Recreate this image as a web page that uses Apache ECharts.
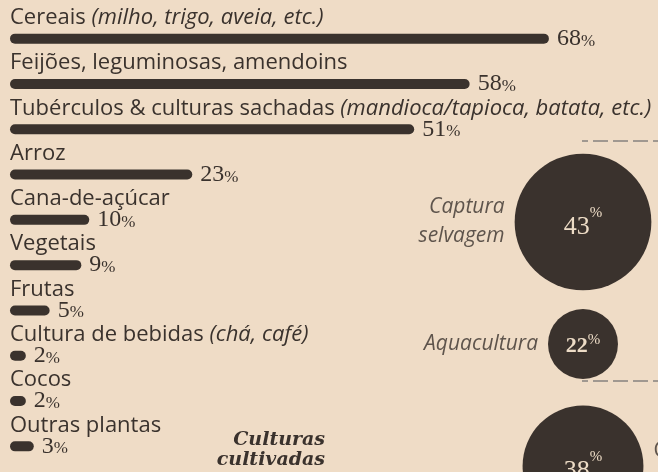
<!DOCTYPE html>
<html>
<head>
<meta charset="utf-8">
<script src="https://cdn.jsdelivr.net/npm/echarts@6/dist/echarts.min.js"></script>
<style>
html,body{margin:0;padding:0;background:#efdcc6;}
#chart{width:658px;height:472px;}
</style>
</head>
<body>
<div id="chart"></div>
<script>
// culturas (barras)
var catNames = ['Cereais', 'Feijões, leguminosas, amendoins', 'Tubérculos & culturas sachadas', 'Arroz', 'Cana-de-açúcar', 'Vegetais', 'Frutas', 'Cultura de bebidas', 'Cocos', 'Outras plantas'];
var catNotes = ['(milho, trigo, aveia, etc.)', '', '(mandioca/tapioca, batata, etc.)', '', '', '', '', '(chá, café)', '', ''];
var cropValues = [68, 58, 51, 23, 10, 9, 5, 2, 2, 3];

// peixe (círculos)
var bubbleNames = ['Captura\nselvagem', 'Aquacultura', 'Criação de\nanimais'];
var bubbleValues = [43, 22, 38];
var bubbleSide = ['left', 'left', 'right'];

var ink = '#3a322d';
var paper = '#efdcc6';
var myChart = echarts.init(document.getElementById('chart'));

var bubbleData = [];
var bubbleNameData = [];
for (var i = 0; i < bubbleValues.length; i++) {
	var small = (i == 1);
	bubbleData.push({
		value: [0, i, bubbleValues[i]],
		label: {rich: {
			n: {fontWeight: small ? 'bold' : 'normal', fontSize: small ? 22 : 26, padding: [small ? 4 : 10, 0, 0, 0]}
		}}
	});
	bubbleNameData.push({
		value: [0, i, bubbleValues[i]],
		label: {
			position: bubbleSide[i],
			align: bubbleSide[i] == 'left' ? 'right' : 'left',
			fontStyle: bubbleSide[i] == 'left' ? 'italic' : 'normal'
		}
	});
}

var option = {
	backgroundColor: paper,
	animation: false,
	textStyle: {fontFamily: 'Open Sans'},
	grid: [
		{left: 10, right: 14, top: 16, height: 453},
		{left: 522, width: 122, top: 222, height: 244}
	],
	xAxis: [
		{gridIndex: 0, type: 'value', min: 0, max: 80, show: false},
		{gridIndex: 1, type: 'category', data: [''], show: false}
	],
	yAxis: [
		{
			gridIndex: 0, type: 'category', inverse: true, data: catNames,
			axisLine: {show: false}, axisTick: {show: false}, splitLine: {show: false},
			axisLabel: {
				inside: true, margin: 0, interval: 0,
				padding: [0, 0, 42, 0],
				formatter: function(v, i){
					var s = '{a|' + v + '}';
					if (catNotes[i]) s += '{a| }{b|' + catNotes[i] + '}';
					return s;
				},
				rich: {
					a: {fontFamily: 'Open Sans', fontSize: 22, color: ink},
					b: {fontFamily: 'Open Sans', fontStyle: 'italic', fontSize: 22, color: ink}
				}
			}
		},
		{gridIndex: 1, type: 'category', inverse: true, boundaryGap: false, data: bubbleNames, show: false}
	],
	series: [
		{
			type: 'bar', xAxisIndex: 0, yAxisIndex: 0,
			data: cropValues,
			barWidth: 10,
			itemStyle: {color: ink, borderRadius: 5},
			label: {
				show: true, position: 'right', distance: 8,
				formatter: '{n|{c}}{p|%}',
				rich: {
					n: {fontFamily: 'Liberation Serif', fontSize: 24, color: ink, verticalAlign: 'bottom'},
					p: {fontFamily: 'Liberation Serif', fontSize: 17, color: ink, verticalAlign: 'bottom', padding: [0, 0, 1, 0]}
				}
			}
		},
		{
			type: 'scatter', xAxisIndex: 1, yAxisIndex: 1, clip: false,
			data: bubbleData,
			symbolSize: function(d){ return d[2] * 3.18; },
			itemStyle: {color: ink, opacity: 1},
			label: {
				show: true, position: 'inside',
				formatter: function(p){ return '{n|' + p.value[2] + '}{p|%}'; },
				rich: {
					n: {fontFamily: 'Liberation Serif', fontSize: 26, color: '#eddcc6', padding: [10, 0, 0, 0]},
					p: {fontFamily: 'Liberation Serif', fontSize: 15, color: '#eddcc6', verticalAlign: 'top', padding: [2, 0, 0, 0]}
				}
			}
		},
		{
			type: 'scatter', xAxisIndex: 1, yAxisIndex: 1, clip: false, silent: true,
			data: bubbleNameData,
			symbolSize: function(d){ return d[2] * 3.18; },
			itemStyle: {color: 'rgba(0,0,0,0)'},
			label: {
				show: true, distance: 10,
				formatter: function(p){ return bubbleNames[p.dataIndex]; },
				fontFamily: 'Open Sans', fontSize: 21, lineHeight: 29, color: ink
			}
		}
	],
	graphic: [
		{type: 'line', shape: {x1: 582, y1: 141, x2: 658, y2: 141}, style: {stroke: '#a09890', lineWidth: 2, lineDash: [15, 5], lineDashOffset: 9}},
		{type: 'line', shape: {x1: 582, y1: 381, x2: 658, y2: 381}, style: {stroke: '#a09890', lineWidth: 2, lineDash: [15, 5], lineDashOffset: 9}},
		{type: 'text', x: 325, y: 430, style: {text: 'Culturas\ncultivadas', font: 'italic bold 19px "DejaVu Serif"', align: 'right', verticalAlign: 'top', lineHeight: 20, fill: ink}}
	]
};

myChart.setOption(option, true);
</script>
</body>
</html>
